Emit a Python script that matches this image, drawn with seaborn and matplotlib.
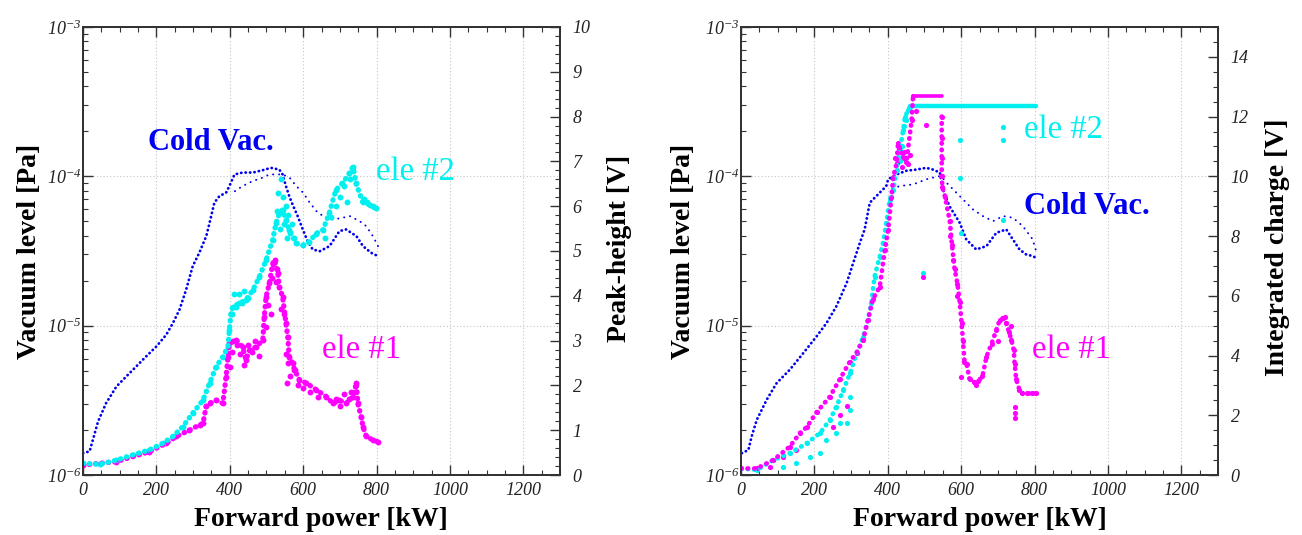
import matplotlib
matplotlib.use('Agg')
import matplotlib.pyplot as plt
import seaborn as sns
from matplotlib.ticker import FixedLocator, FixedFormatter, LogLocator, NullFormatter, MultipleLocator

# ---------------- data ----------------
# left panel: cold vacuum (Pa) vs forward power (kW)
cv_l_x = [0, 18, 27, 41, 63, 91, 118, 145, 172, 200, 227, 245, 263, 281, 299, 317, 336, 345, 358, 372,
          390, 399, 413, 435, 463, 490, 512, 535, 544, 553, 562, 571, 585, 599, 612, 626, 645, 672, 699, 717,
          745, 763, 785, 804]
cv_l_p = [1.40e-6, 1.44e-6, 1.72e-6, 2.28e-6, 3.03e-6, 3.91e-6, 4.57e-6, 5.33e-6, 6.22e-6, 7.26e-6,
          8.70e-6, 1.04e-5, 1.28e-5, 1.74e-5, 2.50e-5, 3.08e-5, 3.98e-5, 4.89e-5, 6.66e-5, 7.38e-5,
          7.77e-5, 8.61e-5, 1.03e-4, 1.06e-4, 1.06e-4, 1.10e-4, 1.14e-4, 1.11e-4, 1.03e-4, 8.61e-5,
          7.38e-5, 6.49e-5, 5.42e-5, 4.41e-5, 3.68e-5, 3.24e-5, 3.15e-5, 3.41e-5, 4.30e-5, 4.41e-5,
          3.98e-5, 3.41e-5, 3.08e-5, 2.92e-5]
cv_l_back_x = [804, 790, 772, 754, 727, 708, 681, 654, 636, 618, 600, 581, 563, 544, 508, 490, 463, 435, 408]
cv_l_back_p = [3.41e-5, 3.98e-5, 4.64e-5, 5.01e-5, 5.42e-5, 5.28e-5, 5.14e-5, 5.42e-5, 5.85e-5, 6.66e-5,
               7.77e-5, 8.61e-5, 9.8e-5, 1.03e-4, 1.03e-4, 9.8e-5, 9.31e-5, 8.61e-5, 7.77e-5]

# left panel: peak-height (V)
e1_l_x = [0, 91, 181, 227, 254, 290, 318, 327, 336, 345, 363, 381, 390, 395, 399, 417, 435, 444, 454, 472,
          490, 494, 499, 508, 517, 522, 531, 535, 544, 553, 558, 562, 571, 577, 590, 609, 636, 663, 681, 699,
          717, 736, 745, 749, 758, 763, 772, 790, 804]
e1_l_v = [0.22, 0.30, 0.52, 0.71, 0.86, 1.00, 1.12, 1.15, 1.55, 1.60, 1.67, 1.60, 2.19, 2.64, 2.94, 3.01,
          2.86, 2.57, 2.79, 2.86, 3.01, 3.53, 3.98, 4.28, 4.72, 4.80, 4.50, 4.20, 3.98, 3.39, 3.09, 2.64,
          2.49, 2.34, 2.12, 2.05, 1.90, 1.75, 1.60, 1.67, 1.60, 1.75, 2.05, 1.60, 1.30, 1.08, 0.86, 0.78, 0.74]
e1_l_cx = [400, 405, 410, 420, 428, 440, 450, 460, 470, 480, 500, 505, 512, 515, 525, 528, 540, 548, 552, 556,
           560, 565, 575, 585, 600, 620, 640, 690, 700, 710, 725, 730]
e1_l_cv = [2.4, 2.75, 3.0, 2.9, 2.7, 2.45, 2.9, 2.75, 3.0, 2.65, 3.3, 3.8, 3.6, 4.4, 4.3, 4.6, 3.7, 3.6, 2.7,
           2.05, 2.5, 2.2, 2.35, 2.0, 1.95, 1.85, 1.75, 1.7, 1.55, 1.8, 1.7, 1.85]

e2_l_x = [0, 45, 91, 136, 181, 218, 245, 272, 299, 327, 345, 363, 381, 395, 399, 403, 408, 426, 444, 463,
          481, 499, 517, 526, 535, 544, 553, 562, 581, 599, 617, 635, 654, 671, 689, 707, 726, 736, 744, 762,
          781, 798]
e2_l_v = [0.26, 0.24, 0.33, 0.45, 0.56, 0.71, 0.86, 1.08, 1.38, 1.67, 2.05, 2.42, 2.64, 2.86, 3.24, 3.60,
          3.76, 3.83, 3.91, 4.13, 4.43, 4.80, 5.25, 5.62, 5.84, 5.92, 5.69, 5.47, 5.17, 5.13, 5.21, 5.39,
          5.47, 5.84, 6.36, 6.51, 6.73, 6.88, 6.51, 6.10, 6.03, 5.95]
e2_l_cx = [405, 412, 418, 425, 432, 440, 450, 528, 532, 536, 540, 545, 548, 552, 556, 560, 565, 570, 575, 660,
           675, 690, 700, 712, 720, 728, 733, 765, 775, 790]
e2_l_cv = [3.6, 4.05, 3.75, 4.05, 3.85, 4.1, 3.95, 5.9, 6.3, 5.5, 6.6, 6.2, 5.6, 6.0, 5.3, 5.8, 5.4, 5.6, 5.3,
           5.3, 5.75, 6.0, 6.2, 6.45, 6.1, 6.6, 6.85, 6.15, 6.1, 6.0]

# right panel: cold vacuum (Pa)
cv_r_x = [2, 20, 29, 43, 70, 97, 133, 170, 206, 233, 260, 288, 306, 324, 337, 351, 378, 396, 401, 424,
          451, 478, 505, 523, 542, 550, 568, 596, 614, 641, 669, 696, 723, 741, 759, 777, 796, 803]
cv_r_p = [1.40e-6, 1.47e-6, 1.81e-6, 2.34e-6, 3.19e-6, 4.12e-6, 5.07e-6, 6.56e-6, 8.48e-6, 1.04e-5,
          1.35e-5, 1.93e-5, 2.64e-5, 3.59e-5, 4.41e-5, 6.66e-5, 7.77e-5, 8.61e-5, 9.55e-5, 1.03e-4,
          1.09e-4, 1.11e-4, 1.14e-4, 1.11e-4, 1.06e-4, 8.18e-5, 6.32e-5, 4.89e-5, 3.78e-5, 3.24e-5,
          3.41e-5, 4.19e-5, 4.41e-5, 3.78e-5, 3.24e-5, 3.00e-5, 2.92e-5, 2.85e-5]
cv_r_back_x = [803, 795, 768, 741, 714, 687, 659, 632, 605, 578, 560, 546, 537, 505, 469, 433, 405]
cv_r_back_p = [3.24e-5, 3.78e-5, 4.64e-5, 5.28e-5, 5.42e-5, 5.01e-5, 5.42e-5, 6.01e-5, 7.01e-5, 8.18e-5,
               9.07e-5, 1.0e-4, 1.0e-4, 9.55e-5, 8.83e-5, 8.61e-5, 8.18e-5]

# right panel: integrated charge (V)
e1_r_x = [0, 43, 88, 133, 161, 179, 206, 242, 269, 297, 315, 333, 346, 360, 378, 392, 401, 410, 415, 424,
          428, 442, 451, 465, 469]
e1_r_v = [0.22, 0.22, 0.50, 0.95, 1.41, 1.60, 2.10, 2.62, 3.20, 3.80, 4.10, 4.52, 5.20, 5.90, 6.30, 7.53,
          8.20, 9.32, 9.99, 10.43, 11.10, 10.66, 10.49, 11.88, 12.69]
e1_r_sat_x = [469, 547]
e1_r_sat_v = [12.69, 12.69]
e1_r_dx = [547, 547, 547, 547, 549, 556, 569, 575, 582, 590, 596, 601, 605, 609, 615, 623, 635, 647, 658, 669,
           683, 696, 705, 714, 723, 730, 737, 743, 746, 750, 759, 767, 780, 793, 805]
e1_r_dv = [12.0, 11.3, 10.6, 10.0, 9.64, 9.32, 8.5, 7.7, 6.9, 6.4, 5.8, 5.1, 4.5, 3.8, 3.7, 3.2, 3.1, 3.15,
           3.3, 3.96, 4.4, 4.86, 5.19, 5.25, 5.08, 4.8, 4.52, 4.2, 3.7, 3.2, 2.85, 2.73, 2.73, 2.73, 2.73]
e1_r_cx = [420, 430, 438, 445, 455, 460, 478, 505, 496, 600, 746, 746, 746, 570, 578, 590, 640, 700, 720, 735,
           79, 115, 151, 250, 270, 290]
e1_r_cv = [10.6, 10.9, 10.3, 10.8, 10.4, 10.7, 12.2, 11.72, 6.64, 3.29, 2.29, 2.06, 1.9, 8.0, 7.2, 6.0, 3.0,
           4.5, 5.3, 5.0, 0.28, 0.61, 0.84, 1.6, 2.0, 2.3]

e2_r_x = [0, 43, 88, 133, 179, 215, 242, 260, 279, 297, 315, 333, 346, 355, 364, 378, 387, 396, 405, 415,
          424, 428, 433, 442, 447, 456, 460]
e2_r_v = [0.22, 0.17, 0.50, 0.73, 1.06, 1.40, 1.84, 2.29, 2.85, 3.40, 4.07, 4.63, 5.19, 5.75, 6.64, 7.31,
          7.76, 8.43, 9.21, 9.54, 10.21, 10.66, 10.88, 11.55, 12.00, 12.22, 12.33]
e2_r_sat_x = [460, 805]
e2_r_sat_v = [12.35, 12.35]
e2_r_cx = [115, 151, 188, 215, 233, 260, 269, 288, 297, 297, 433, 440, 445, 450, 596, 598, 600, 496, 713, 713,
           713]
e2_r_cv = [0.28, 0.39, 0.61, 0.73, 1.17, 1.40, 1.73, 1.73, 2.18, 2.62, 10.5, 11.0, 11.7, 11.9, 11.2, 9.94,
           8.1, 6.76, 11.65, 11.2, 8.54]

xticks = [0, 200, 400, 600, 800, 1000, 1200]
log_ticks = [1e-6, 1e-5, 1e-4, 1e-3]
log_labels = [r'$10^{-6}$', r'$10^{-5}$', r'$10^{-4}$', r'$10^{-3}$']

BLUE = '#0000f0'
CYAN = '#00f0f0'
MAGENTA = '#ff00ff'
FRAME = '#333333'

sns.set_style('ticks')
plt.rcParams['font.family'] = ['Liberation Serif', 'DejaVu Serif']
plt.rcParams['mathtext.fontset'] = 'custom'
plt.rcParams['mathtext.rm'] = 'Liberation Serif:italic'
plt.rcParams['mathtext.it'] = 'Liberation Serif:italic'
plt.rcParams['mathtext.default'] = 'it'

W, H = 1302, 535
fig = plt.figure(figsize=(W / 100, H / 100), dpi=100)


def box(left, top, right, bottom):
    return [left / W, 1 - bottom / H, (right - left) / W, (bottom - top) / H]


def dots(ax, x, y, color, lw, gap):
    # dotted trail of measurement points
    sns.lineplot(x=x, y=y, ax=ax, sort=False, estimator=None, color=color, lw=lw,
                 linestyle=(0, (0.1, gap)), dash_capstyle='round')


def cloud(ax, x, y, color, size):
    sns.scatterplot(x=x, y=y, ax=ax, color=color, s=size, linewidth=0)


def setup(ax, ax2, vmax, vstep, vminor):
    ax.set_xlim(0, 1300)
    ax.set_yscale('log')
    ax.set_ylim(1e-6, 1e-3)
    ax.xaxis.set_major_locator(FixedLocator(xticks))
    ax.xaxis.set_minor_locator(MultipleLocator(50))
    ax.set_xticklabels([str(t) for t in xticks], fontstyle='italic')
    ax.yaxis.set_major_locator(FixedLocator(log_ticks))
    ax.yaxis.set_major_formatter(FixedFormatter(log_labels))
    ax.yaxis.set_minor_locator(LogLocator(base=10, subs=range(2, 10)))
    ax.yaxis.set_minor_formatter(NullFormatter())
    ax.tick_params(which='both', direction='in', top=True, right=False, colors=FRAME,
                   labelcolor='#222222', labelsize=13)
    ax.tick_params(which='major', length=7, width=1.0)
    ax.tick_params(which='minor', length=3.5, width=0.8)
    ax.tick_params(axis='x', pad=5)
    ax.tick_params(axis='y', pad=1)
    ax.grid(True, which='major', color='#c4c4c4', lw=0.8, ls=(0, (1, 2)))
    ax.set_xlabel('')
    ax.set_ylabel('')

    ax2.set_ylim(0, vmax)
    ax2.yaxis.set_major_locator(MultipleLocator(vstep))
    ax2.yaxis.set_minor_locator(MultipleLocator(vminor))
    ax2.tick_params(which='both', direction='in', right=True, left=False, colors=FRAME,
                    labelcolor='#222222', labelsize=13, pad=9)
    ax2.tick_params(which='major', length=7, width=1.0)
    ax2.tick_params(which='minor', length=3.5, width=0.8)
    for lab in ax2.get_yticklabels():
        lab.set_fontstyle('italic')
    ax2.set_ylabel('')
    for a in (ax, ax2):
        for sp in a.spines.values():
            sp.set_color(FRAME)
            sp.set_linewidth(1.4)


# ---------------- left panel ----------------
ax_l = fig.add_axes(box(83, 27, 560, 475))
dots(ax_l, cv_l_x, cv_l_p, BLUE, 2.0, 1.5)
dots(ax_l, cv_l_back_x, cv_l_back_p, BLUE, 1.4, 3.0)
ax_l2 = ax_l.twinx()
dots(ax_l2, e1_l_x, e1_l_v, MAGENTA, 3.8, 1.1)
cloud(ax_l2, e1_l_x + e1_l_cx, e1_l_v + e1_l_cv, MAGENTA, 18)
dots(ax_l2, e2_l_x, e2_l_v, CYAN, 3.8, 1.1)
cloud(ax_l2, e2_l_x + e2_l_cx, e2_l_v + e2_l_cv, CYAN, 18)
setup(ax_l, ax_l2, 10, 1, 0.2)

# ---------------- right panel ----------------
ax_r = fig.add_axes(box(741, 27, 1218, 475))
dots(ax_r, cv_r_x, cv_r_p, BLUE, 2.0, 1.5)
dots(ax_r, cv_r_back_x, cv_r_back_p, BLUE, 1.4, 3.0)
ax_r2 = ax_r.twinx()
dots(ax_r2, e2_r_x, e2_r_v, CYAN, 3.4, 1.3)
cloud(ax_r2, e2_r_x + e2_r_cx, e2_r_v + e2_r_cv, CYAN, 14)
sns.lineplot(x=e2_r_sat_x, y=e2_r_sat_v, ax=ax_r2, color=CYAN, lw=3.2, estimator=None)
dots(ax_r2, e1_r_x, e1_r_v, MAGENTA, 3.4, 1.3)
dots(ax_r2, e1_r_dx, e1_r_dv, MAGENTA, 3.4, 1.3)
cloud(ax_r2, e1_r_x + e1_r_dx + e1_r_cx, e1_r_v + e1_r_dv + e1_r_cv, MAGENTA, 14)
sns.lineplot(x=e1_r_sat_x, y=e1_r_sat_v, ax=ax_r2, color=MAGENTA, lw=2.6, estimator=None)
setup(ax_r, ax_r2, 15, 2, 0.5)


def ftext(x, y, s, **kw):
    fig.text(x / W, 1 - y / H, s, ha='center', va='center', **kw)


lab = dict(fontsize=20, fontweight='bold', color='black')
ftext(321, 519, 'Forward power [kW]', **lab)
ftext(980, 519, 'Forward power [kW]', **lab)
ftext(30, 251, 'Vacuum level [Pa]', rotation=90, **lab)
ftext(683, 251, 'Vacuum level [Pa]', rotation=90, **lab)
ftext(620, 248, 'Peak-height [V]', rotation=90, **lab)
ftext(1278, 247, 'Integrated charge [V]', rotation=90, **lab)

ftext(211, 143, 'Cold Vac.', fontsize=22, fontweight='bold', color=BLUE)
ftext(415, 172, 'ele #2', fontsize=23.5, color=CYAN)
ftext(362, 350, 'ele #1', fontsize=23.5, color=MAGENTA)
ftext(1087, 207, 'Cold Vac.', fontsize=22, fontweight='bold', color=BLUE)
ftext(1063, 130, 'ele #2', fontsize=23.5, color=CYAN)
ftext(1071, 350, 'ele #1', fontsize=23.5, color=MAGENTA)

fig.savefig('out.png', dpi=100)
